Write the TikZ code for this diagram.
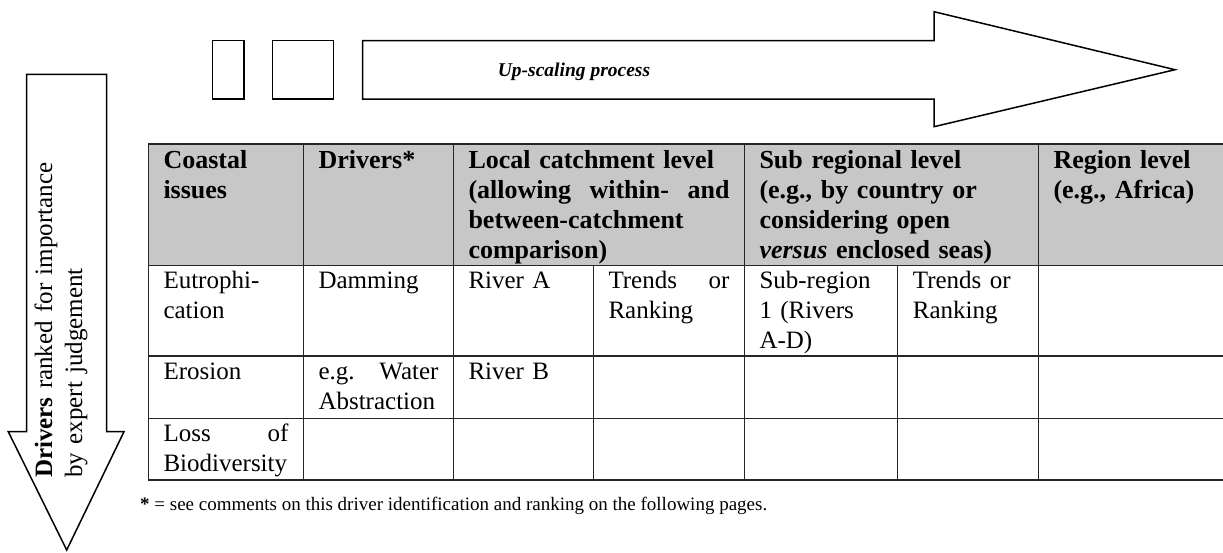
\documentclass[tikz,border=0pt]{standalone}
\usepackage{fontspec}
\setmainfont{Liberation Serif}

\tikzset{
  outline/.style={draw, line width=1.5pt, line join=miter},
  rule/.style={line width=1.2pt, black!85},
  cell/.style={anchor=north west, inner sep=0pt, align=left, font=\fontsize{25}{30}\selectfont},
  headcell/.style={cell, font=\fontsize{26}{30}\selectfont\bfseries},
}

\begin{document}
\begin{tikzpicture}[x=1pt, y=-1pt]
    \useasboundingbox (0,0) rectangle (1223,552);

    % up-scaling arrow
    \draw[outline] (212.7,40.7) rectangle (244,99);
    \draw[outline] (272.7,40.7) rectangle (333.7,99);
    \draw[outline] (362.7,40.7) -- (934,40.7) -- (934,11.7) -- (1175,69.7) -- (934,126.7) -- (934,99) -- (362.7,99) -- cycle;
    \node[anchor=base, inner sep=0pt, font=\fontsize{19.5}{23}\selectfont\bfseries\itshape] (upscale) at (574,76) {Up-scaling process};

    % ranking arrow
    \draw[outline] (26.7,74.3) -- (106.7,74.3) -- (106.7,431.7) -- (124,431.7) -- (66.7,550) -- (8.3,431.7) -- (26.7,431.7) -- cycle;
    \node[cell, rotate=90, text width=330pt] (ranking) at (31,478) {\strut\textbf{Drivers} ranked for importance\\by expert judgement};

    % table
    \fill[black!22] (148.3,144) rectangle (1223,265.7);
    \draw[rule] (148.3,144) -- (1223,144);
    \draw[rule] (148.3,265.7) -- (1223,265.7);
    \draw[rule] (148.3,356) -- (1223,356);
    \draw[rule] (148.3,418.3) -- (1223,418.3);
    \draw[rule] (148.3,480) -- (1223,480);
    \draw[rule] (148.3,144) -- (148.3,480);
    \draw[rule] (303.3,144) -- (303.3,480);
    \draw[rule] (453.3,144) -- (453.3,480);
    \draw[rule] (744.3,144) -- (744.3,480);
    \draw[rule] (1038.3,144) -- (1038.3,480);
    \draw[rule] (593.3,265.7) -- (593.3,480);
    \draw[rule] (897.7,265.7) -- (897.7,480);

    \node[headcell, text width=125pt] (issues) at (163.3,147) {\strut Coastal\\issues};
    \node[headcell, text width=120pt] (drivers) at (318.3,147) {\strut Drivers*};
    \node[headcell, text width=261pt] (local) at (468.3,147) {\strut Local catchment level\\(allowing\hfill within-\hfill and\\between-catchment\\comparison)};
    \node[headcell, text width=264pt] (subreg) at (759.3,147) {\strut Sub regional level\\(e.g., by country or\\considering open\\\textit{versus} enclosed seas)};
    \node[headcell, text width=160pt] (region) at (1053.3,147) {\strut Region level\\(e.g., Africa)};

    \node[cell, text width=125pt] (eutro) at (163.3,267.7) {\strut Eutrophi-\\cation};
    \node[cell, text width=120pt] (damming) at (318.3,267.7) {\strut Damming};
    \node[cell, text width=110pt] (rivera) at (468.3,267.7) {\strut River A};
    \node[cell, text width=121pt] (trendsa) at (608.3,267.7) {\strut Trends\hfill or\\Ranking};
    \node[cell, text width=123pt] (subone) at (759.3,267.7) {\strut Sub-region\\1 (Rivers\\A-D)};
    \node[cell, text width=110pt] (trendsb) at (912.7,267.7) {\strut Trends or\\Ranking};

    \node[cell, text width=125pt] (erosion) at (163.3,358) {\strut Erosion};
    \node[cell, text width=120pt] (water) at (318.3,358) {\strut e.g.\hfill Water\\Abstraction};
    \node[cell, text width=110pt] (riverb) at (468.3,358) {\strut River B};

    \node[cell, text width=125pt] (biodiv) at (163.3,420.3) {\strut Loss\hfill of\\Biodiversity};

    % footnote
    \node[anchor=base west, inner sep=0pt, font=\fontsize{19}{23}\selectfont] (footnote) at (140,510) {\textbf{*} = see comments on this driver identification and ranking on the following pages.};
\end{tikzpicture}
\end{document}
